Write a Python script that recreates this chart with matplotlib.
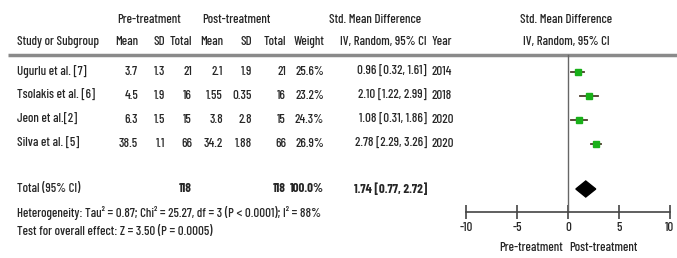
import numpy as np
import matplotlib.pyplot as plt

plt.rcParams['font.family'] = ['Barlow Condensed', 'Roboto Condensed', 'DejaVu Sans']
plt.rcParams['font.weight'] = 'medium'

studies = ['Ugurlu et al. [7]', 'Tsolakis et al. [6]', 'Jeon et al.[2]', 'Silva et al. [5]']
pre_mean = ['3.7', '4.5', '6.3', '38.5']
pre_sd = ['1.3', '1.9', '1.5', '1.1']
pre_n = [21, 16, 15, 66]
post_mean = ['2.1', '1.55', '3.8', '34.2']
post_sd = ['1.9', '0.35', '2.8', '1.88']
post_n = [21, 16, 15, 66]
weight = [25.6, 23.2, 24.3, 26.9]
smd = [0.96, 2.10, 1.08, 2.78]
lo = [0.32, 1.22, 0.31, 2.29]
hi = [1.61, 2.99, 1.86, 3.26]
years = [2014, 2018, 2020, 2020]
tot_smd, tot_lo, tot_hi = 1.74, 0.77, 2.72
xticks = [-10, -5, 0, 5, 10]

W, H = 677, 258
fig = plt.figure(figsize=(W / 100, H / 100), dpi=100)
tab = fig.add_axes([0, 0, 1, 1])
tab.set_xlim(0, W)
tab.set_ylim(H, 0)
tab.axis('off')

tc = '#262626'
fs = 9.3
row_y = [72, 96, 120, 144]
# right edges of the table columns
cols = [138, 165, 192, 223, 252, 286, 324, 427]

def t(x, y, s, ha='left', **kw):
    tab.text(x, y, s, ha=ha, va='center', fontsize=fs, color=tc, **kw)

# headers
t(149, 20, 'Pre-treatment', ha='center')
t(236, 20, 'Post-treatment', ha='center')
t(375, 20, 'Std. Mean Difference', ha='center')
t(566, 20, 'Std. Mean Difference', ha='center')
t(17, 42, 'Study or Subgroup')
for x, s in zip(cols, ['Mean', 'SD', 'Total', 'Mean', 'SD', 'Total', 'Weight', 'IV, Random, 95% CI']):
    t(x, 42, s, ha='right')
t(432, 42, 'Year')
t(566, 42, 'IV, Random, 95% CI', ha='center')
tab.plot([8, W], [55, 55], color='#8a8a8a', lw=2.5, solid_capstyle='butt')

for i, y in enumerate(row_y):
    vals = [pre_mean[i], pre_sd[i], str(pre_n[i]), post_mean[i], post_sd[i], str(post_n[i]),
            f'{weight[i]:.1f}%', f'{smd[i]:.2f} [{lo[i]:.2f}, {hi[i]:.2f}]']
    t(17, y, studies[i])
    for x, s in zip(cols, vals):
        t(x, y, s, ha='right')
    t(432, y, str(years[i]))

ty = 189
t(17, ty, 'Total (95% CI)')
t(cols[2], ty, str(sum(pre_n)), ha='right', fontweight='bold')
t(cols[5], ty, str(sum(post_n)), ha='right', fontweight='bold')
t(cols[6], ty, '100.0%', ha='right', fontweight='bold')
t(cols[7], ty, f'{tot_smd:.2f} [{tot_lo:.2f}, {tot_hi:.2f}]', ha='right', fontweight='bold')
t(17, 213, 'Heterogeneity: Tau\u00b2 = 0.87; Chi\u00b2 = 25.27, df = 3 (P < 0.0001); I\u00b2 = 88%')
t(17, 232, 'Test for overall effect: Z = 3.50 (P = 0.0005)')

# forest panel
fx0, fx1 = 466, 670
ax = fig.add_axes([fx0 / W, 0, (fx1 - fx0) / W, 1])
ax.set_xlim(-10, 10)
ax.set_ylim(H, 0)
ax.patch.set_alpha(0)
for s in ['top', 'left', 'right']:
    ax.spines[s].set_visible(False)
ax.spines['bottom'].set_position(('data', 212))
ax.spines['bottom'].set_color('#444444')
ax.spines['bottom'].set_linewidth(1.2)
ax.set_xticks(xticks)
ax.set_xticklabels([str(v) for v in xticks])
ax.tick_params(axis='x', direction='inout', length=10, width=1.2, colors='#444444',
               labelsize=fs, labelcolor=tc, pad=2)
ax.set_yticks([])
ax.plot([0, 0], [55, 212], color='#666666', lw=1)

for i, y in enumerate(row_y):
    ax.plot([lo[i], hi[i]], [y, y], color='#4a3a2a', lw=1.3)
    ax.plot(smd[i], y, marker='s', color='#19b019', markersize=1.8 + weight[i] / 10, mec='#19b019')

dy = 8
ax.fill([tot_lo, tot_smd, tot_hi, tot_smd], [ty, ty - dy, ty, ty + dy], color='black')

t(563, 248, 'Pre-treatment', ha='right')
t(569, 248, 'Post-treatment')

fig.savefig('out.png', dpi=100)
